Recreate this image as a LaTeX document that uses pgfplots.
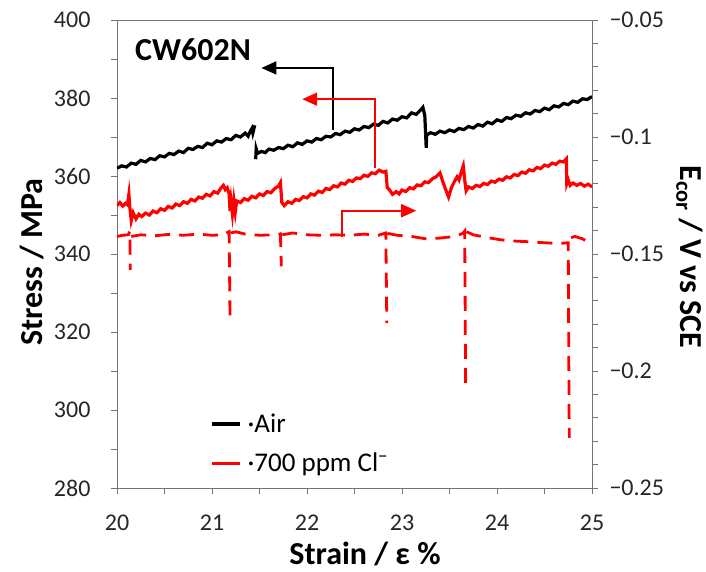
\documentclass[border=0pt]{standalone}
\usepackage{fontspec}
\setmainfont{Carlito}
\usepackage{pgfplots}
\pgfplotsset{compat=1.18}
\usetikzlibrary{arrows.meta}
\newcommand{\tfont}{\fontsize{24bp}{28bp}\selectfont}
\newcommand{\gfont}{\fontsize{27bp}{30bp}\selectfont}
\newcommand{\lfont}{\fontsize{32bp}{36bp}\selectfont\bfseries}

\pgfplotstableread{
x y
20.00 362.0
20.05 362.6
20.10 362.3
20.15 363.3
20.20 363.0
20.25 364.0
20.30 363.6
20.35 364.5
20.40 364.2
20.45 365.2
20.50 364.9
20.55 365.8
20.60 365.5
20.65 366.4
20.70 366.0
20.75 367.1
20.80 366.8
20.85 367.6
20.90 367.3
20.95 368.4
21.00 368.0
21.05 369.0
21.10 368.7
21.15 369.6
21.20 369.3
21.25 370.4
21.30 370.0
21.35 371.0
21.38 370.2
21.40 371.3
21.42 372.2
21.43 371.0
21.45 373.0
21.455 nan
21.46 364.3
21.465 367.0
21.48 365.8
21.52 366.3
21.56 366.0
21.60 366.9
21.65 366.6
21.70 367.3
21.75 367.0
21.80 367.9
21.85 367.5
21.90 368.5
21.95 368.1
22.00 369.0
22.05 368.7
22.10 369.6
22.15 369.3
22.20 370.2
22.25 370.0
22.30 370.9
22.35 370.6
22.40 371.5
22.45 371.2
22.50 372.1
22.55 371.8
22.60 372.7
22.65 372.4
22.70 373.3
22.75 373.0
22.80 374.0
22.85 373.6
22.90 374.6
22.95 374.3
23.00 375.2
23.05 374.9
23.10 376.2
23.15 375.8
23.20 377.0
23.22 377.6
23.24 375.5
23.25 370.0
23.255 367.2
23.26 370.5
23.30 371.1
23.35 370.7
23.40 371.5
23.45 371.1
23.50 371.8
23.55 371.4
23.60 372.2
23.65 371.9
23.70 372.7
23.75 372.3
23.80 373.2
23.85 372.8
23.90 373.8
23.95 373.4
24.00 374.4
24.05 374.0
24.10 375.0
24.15 374.7
24.20 375.6
24.25 375.3
24.30 376.2
24.35 375.9
24.40 376.8
24.45 376.5
24.50 377.4
24.55 377.0
24.60 378.0
24.65 377.7
24.70 378.6
24.75 378.3
24.80 379.2
24.85 378.9
24.90 379.8
24.95 379.6
25.00 380.4
}\airdata

\pgfplotstableread{
x y
20.00 352.4
20.03 353.2
20.06 352.3
20.09 353.0
20.11 352.6
20.125 355.3
20.135 352.0
20.15 348.6
20.17 350.6
20.20 349.0
20.23 350.2
20.26 349.6
20.30 350.5
20.34 350.0
20.38 351.0
20.42 350.6
20.46 351.6
20.50 351.2
20.54 352.2
20.58 351.8
20.62 352.8
20.66 352.4
20.70 353.4
20.74 353.0
20.78 354.0
20.82 353.6
20.86 354.6
20.90 354.3
20.94 355.3
20.98 354.9
21.02 356.0
21.06 355.6
21.09 356.8
21.12 357.6
21.14 356.5
21.16 357.0
21.18 355.5
21.19 351.0
21.20 353.6
21.215 350.3
21.23 353.8
21.245 350.8
21.26 353.6
21.30 353.2
21.34 354.2
21.38 353.8
21.42 354.8
21.46 354.4
21.50 355.4
21.54 355.0
21.58 356.0
21.62 355.7
21.66 356.8
21.70 357.4
21.72 358.3
21.735 353.2
21.76 352.4
21.80 353.4
21.84 353.0
21.88 354.0
21.92 353.7
21.96 354.7
22.00 354.4
22.04 355.4
22.08 355.1
22.12 356.1
22.16 355.8
22.20 356.8
22.24 356.5
22.28 357.5
22.32 357.2
22.36 358.2
22.40 357.9
22.44 358.9
22.48 358.6
22.52 359.5
22.56 359.3
22.60 360.2
22.64 359.9
22.68 360.8
22.72 360.6
22.76 361.5
22.80 361.0
22.83 361.2
22.845 357.0
22.87 356.4
22.90 355.3
22.94 356.0
22.97 355.4
23.00 356.4
23.04 356.0
23.08 357.0
23.12 356.7
23.16 357.7
23.20 357.5
23.24 358.5
23.28 358.3
23.32 359.3
23.36 359.8
23.40 360.8
23.43 358.5
23.46 356.5
23.49 354.6
23.52 357.0
23.55 358.5
23.58 359.8
23.60 359.0
23.63 361.5
23.645 362.6
23.66 359.0
23.675 356.2
23.70 357.2
23.74 356.8
23.78 357.6
23.82 357.3
23.86 358.1
23.90 357.8
23.94 358.7
23.98 358.4
24.02 359.2
24.06 358.9
24.10 359.8
24.14 359.5
24.18 360.4
24.22 360.1
24.26 361.0
24.30 360.7
24.34 361.6
24.38 361.3
24.42 362.2
24.46 361.9
24.50 362.8
24.54 362.5
24.58 363.3
24.62 363.0
24.66 363.8
24.70 363.6
24.73 364.4
24.735 358.0
24.75 359.0
24.77 357.6
24.80 358.2
24.84 357.6
24.88 358.1
24.92 357.4
24.96 357.9
25.00 357.2
}\cldata

\pgfplotstableread{
x y
20.00 -0.1425
20.06 -0.1420
20.12 -0.1418
20.135 -0.1402
20.14 -0.1568
20.145 nan
20.15 -0.1425
20.25 -0.1418
20.40 -0.1422
20.55 -0.1416
20.70 -0.1420
20.85 -0.1415
21.00 -0.1420
21.12 -0.1418
21.18 -0.1404
21.19 -0.1780
21.195 nan
21.20 -0.1410
21.25 -0.1405
21.35 -0.1415
21.50 -0.1420
21.65 -0.1418
21.72 -0.1414
21.73 -0.1553
21.735 nan
21.74 -0.1418
21.85 -0.1410
22.00 -0.1418
22.15 -0.1420
22.30 -0.1418
22.45 -0.1420
22.60 -0.1415
22.75 -0.1420
22.83 -0.1410
22.84 -0.1795
22.845 nan
22.85 -0.1412
22.95 -0.1420
23.10 -0.1425
23.25 -0.1435
23.40 -0.1432
23.55 -0.1425
23.64 -0.1412
23.66 -0.1402
23.67 -0.2066
23.675 nan
23.68 -0.1405
23.75 -0.1418
23.90 -0.1430
24.05 -0.1440
24.20 -0.1445
24.35 -0.1448
24.50 -0.1452
24.65 -0.1455
24.75 -0.1452
24.76 -0.2286
24.77 nan
24.78 -0.1430
24.82 -0.1425
24.90 -0.1435
25.00 -0.1460
}\ecordata

\begin{document}
\begin{tikzpicture}
\path[use as bounding box] (-117bp,-84bp) rectangle (589bp,488bp);
\pgfplotsset{
  common/.style={
    scale only axis, width=475bp, height=468bp,
    xmin=20, xmax=25,
    axis line style={black!55, line width=0.9bp},
    tick style={black!55, line width=0.9bp},
    tick align=outside,
    major tick length=6bp, minor tick length=6bp,
    tick label style={font=\tfont, text=black!85},
    /pgf/number format/assume math mode=true,
    unbounded coords=jump,
  }
}
\begin{axis}[common, at={(0,0)}, anchor=south west,
  ymin=280, ymax=400, ytick={280,300,...,400}, minor y tick num=1,
  xtick={20,...,25}, minor x tick num=1,
  xtick pos=bottom, ytick pos=left,
  xticklabel shift=17bp, yticklabel shift=17bp,
  xlabel={Strain / ε \%}, ylabel={Stress / MPa},
  xlabel style={font=\lfont, at={(axis description cs:0.522,-0.1645)}, anchor=base},
  ylabel style={font=\lfont, at={(axis description cs:-0.156,0.483)}, anchor=base},
  legend cell align=left,
  legend style={draw=none, fill=none, at={(rel axis cs:0.19,0.167)}, anchor=north west, font=\gfont, row sep=15bp},
  legend image code/.code={\draw[#1] (0bp,0bp) -- (28bp,0bp);},
]
\addplot[black, line width=3.2bp] table[x=x,y=y] {\airdata};
\addlegendentry{\hspace*{4bp}\textperiodcentered Air}
\addplot[red, line width=3.2bp] table[x=x,y=y] {\cldata};
\addlegendentry{\hspace*{4bp}\textperiodcentered 700 ppm Cl\textsuperscript{−}}
\draw[black, line width=1.8bp, -{Triangle[length=15bp,width=13bp]}] (axis cs:22.27,371.8) |- (axis cs:21.52,387.7);
\draw[red, line width=1.8bp, -{Triangle[length=15bp,width=13bp]}] (axis cs:22.72,362) |- (axis cs:21.95,379.7);
\draw[red, line width=1.8bp, -{Triangle[length=15bp,width=13bp]}] (axis cs:22.37,344.4) |- (axis cs:23.15,351.1);
\node[anchor=west, inner sep=0pt, font=\lfont] at (axis cs:20.19,392.3) {CW602N};
\end{axis}
\begin{axis}[common, at={(0,0)}, anchor=south west,
  ymin=-0.25, ymax=-0.05, ytick={-0.25,-0.2,-0.15,-0.1,-0.05},
  yticklabels={−0.25,−0.2,−0.15,−0.1,−0.05}, minor y tick num=4,
  yticklabel shift=8bp,
  axis y line*=right, axis x line=none,
  ylabel={E\textsubscript{cor} / V vs SCE},
  ylabel style={font=\lfont, rotate=180, at={(axis description cs:1.1853,0.4936)}, anchor=base},
]
\addplot[red, line width=2.8bp, dash pattern=on 15bp off 9bp] table[x=x,y=y] {\ecordata};
\end{axis}
\end{tikzpicture}
\end{document}
